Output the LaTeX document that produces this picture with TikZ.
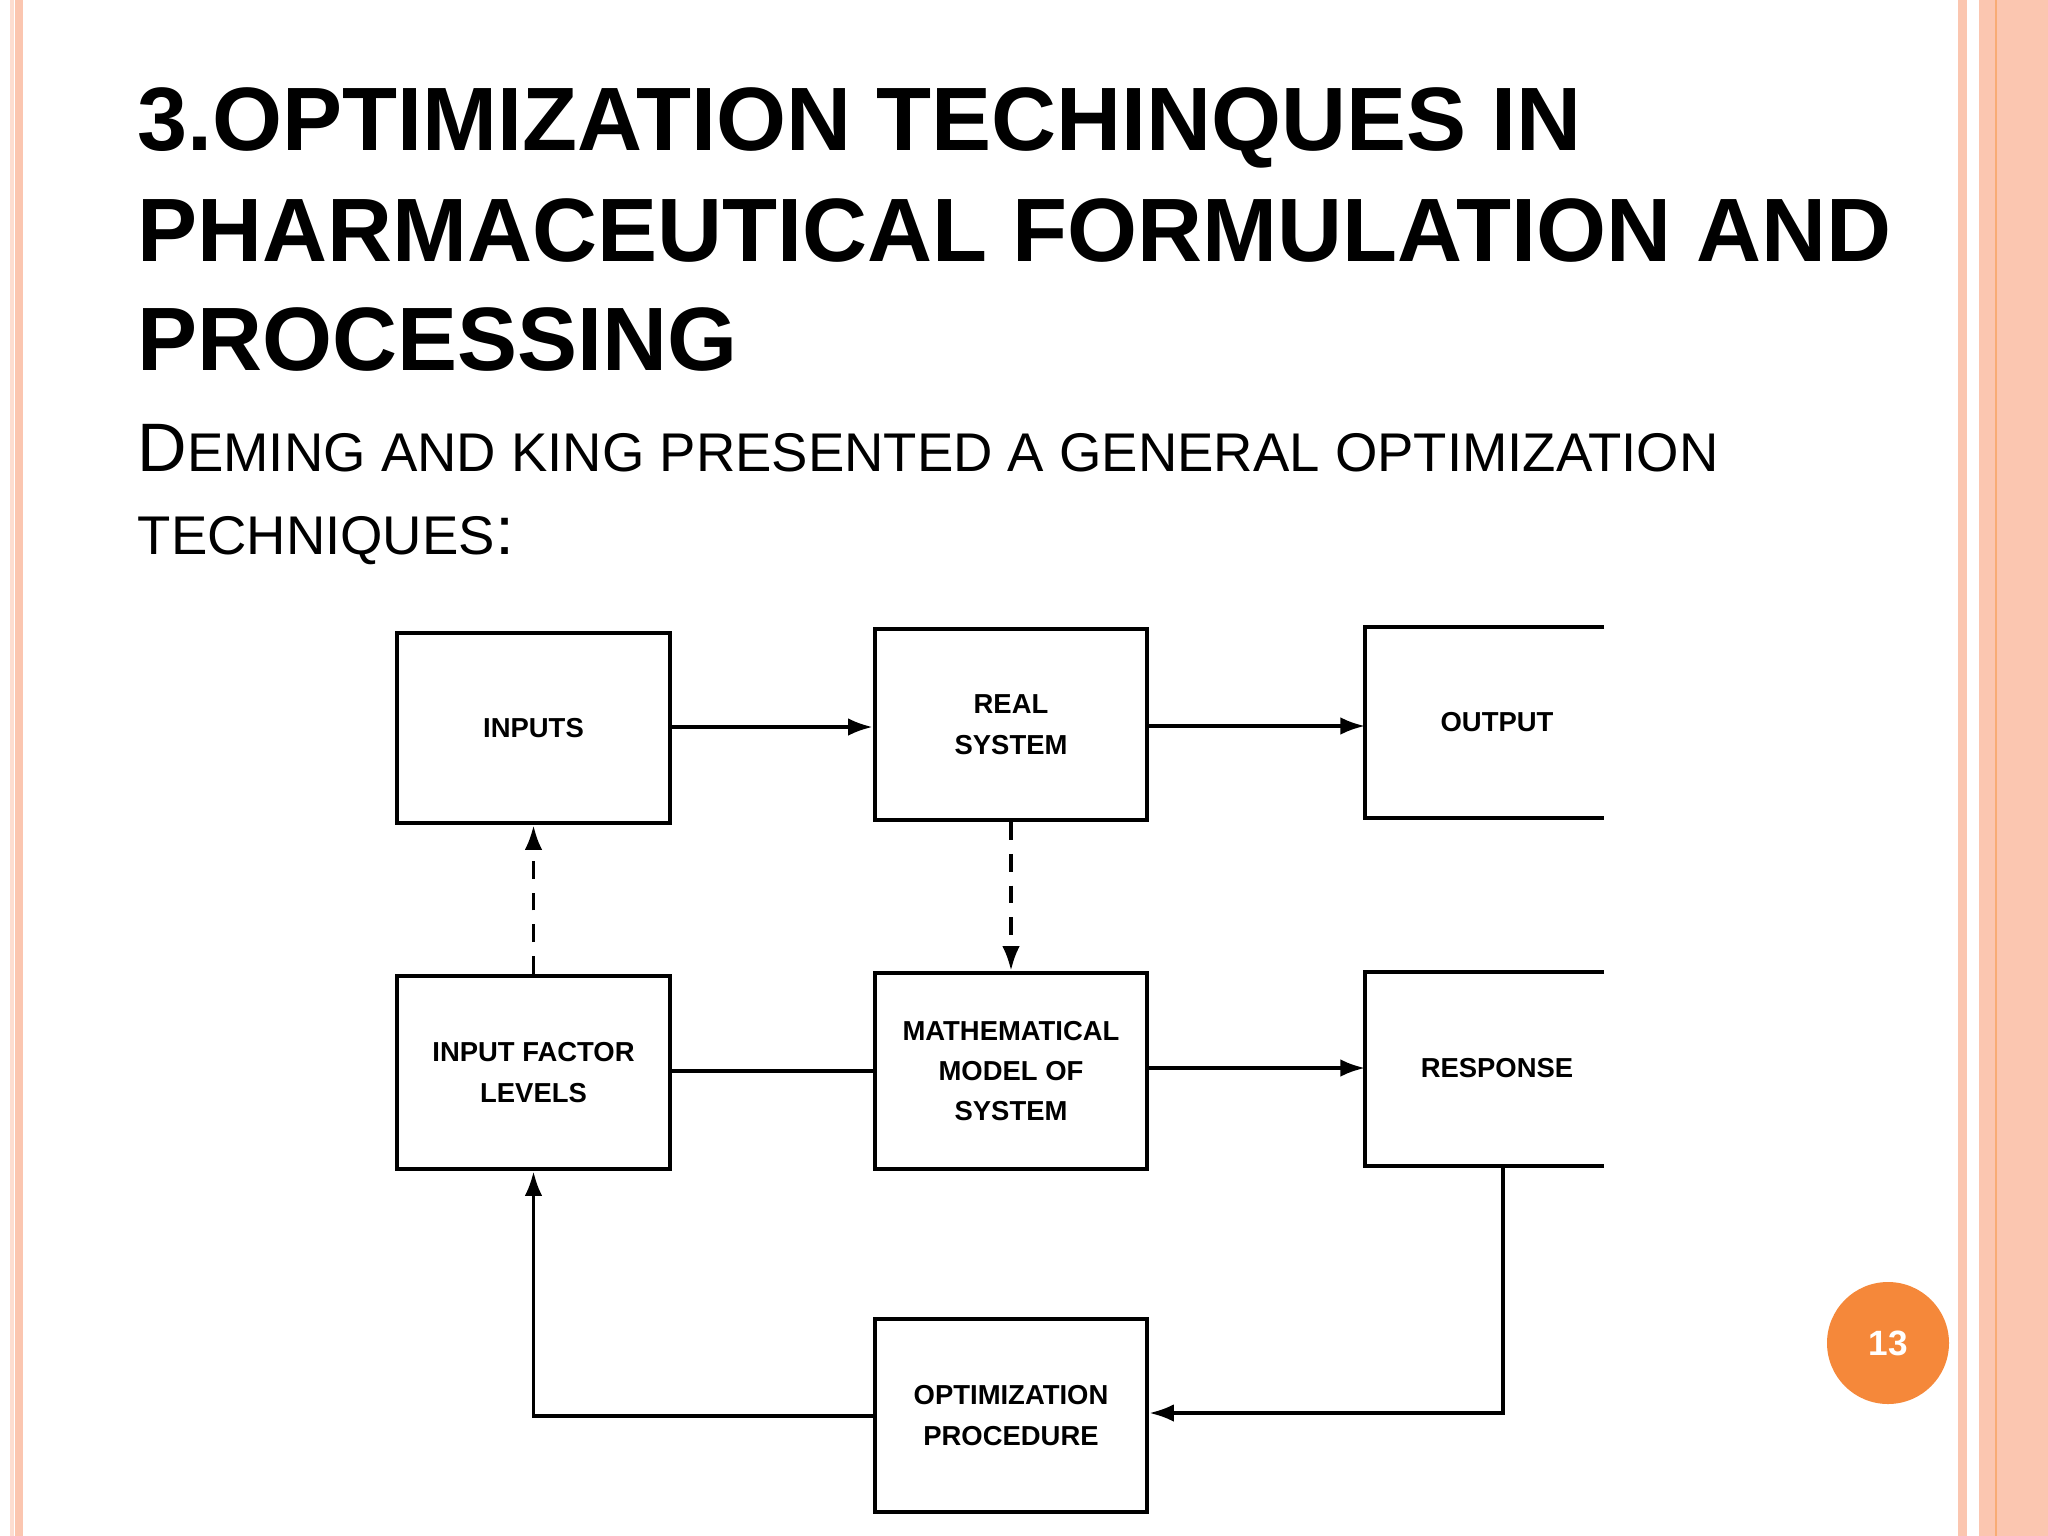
\documentclass[tikz,border=0pt]{standalone}
\usepackage{fontspec}
\setmainfont{Liberation Sans}
\usetikzlibrary{arrows.meta}
\definecolor{peach}{HTML}{FBC6B0}
\definecolor{orng}{HTML}{F5883A}
\begin{document}
\begin{tikzpicture}[x=0.01cm,y=-0.01cm,
  bx/.style={draw,line width=1.3pt},
  lbl/.style={font=\fontsize{7.8}{11.5}\selectfont\bfseries,align=center},
  ttl/.style={anchor=base west,inner sep=0pt,font=\fontsize{25.6}{30}\selectfont\bfseries},
  sub/.style={anchor=base west,inner sep=0pt,font=\fontsize{15.5}{18}\selectfont},
  ln/.style={line width=1pt},
  arr/.style={ln,-{Latex[length=7pt,width=5pt]}}]
\useasboundingbox (0,0) rectangle (2048,1536);
\fill[white] (0,0) rectangle (2048,1536);
\fill[peach!60] (10,0) rectangle (14,1536);
\fill[peach] (15,0) rectangle (23,1536);
\fill[peach] (1958,0) rectangle (1967,1536);
\fill[peach] (1979,0) rectangle (2048,1536);
\draw[orng!70,line width=0.6pt] (1996,0) -- (1996,1536);
% title
\node[ttl] (t1) at (137,150) {3.OPTIMIZATION TECHINQUES IN};
\node[ttl] (t2) at (137,261) {PHARMACEUTICAL FORMULATION AND};
\node[ttl] (t3) at (137,370) {PROCESSING};
\node[sub] (s1) at (137,471) {{\fontsize{19.5}{22}\selectfont D}EMING AND KING PRESENTED A GENERAL OPTIMIZATION};
\node[sub] (s2) at (137,554) {TECHNIQUES{\fontsize{19.5}{22}\selectfont :}};
% boxes
\node[bx,minimum width=273*0.01cm,minimum height=190*0.01cm,lbl] (in) at (533.5,728) {INPUTS};
\node[bx,minimum width=272*0.01cm,minimum height=191*0.01cm,lbl] (rs) at (1011,724.5) {REAL\\SYSTEM};
\node[bx,minimum width=273*0.01cm,minimum height=193*0.01cm,lbl] (if) at (533.5,1072.5) {INPUT FACTOR\\LEVELS};
\node[bx,minimum width=272*0.01cm,minimum height=196*0.01cm,lbl] (mm) at (1011,1071) {MATHEMATICAL\\MODEL OF\\SYSTEM};
\node[bx,minimum width=272*0.01cm,minimum height=193*0.01cm,lbl] (op) at (1011,1415.5) {OPTIMIZATION\\PROCEDURE};
\node[lbl] (ou) at (1497,722) {OUTPUT};
\node[lbl] (re) at (1497,1068) {RESPONSE};
\draw[line width=1.3pt] (1604,627) -- (1365,627) -- (1365,818) -- (1604,818);
\draw[line width=1.3pt] (1604,972) -- (1365,972) -- (1365,1166) -- (1604,1166);
\coordinate (oul) at (1365,726);
\coordinate (rel) at (1365,1068);
\coordinate (reb) at (1503,1166);
% connectors
\draw[arr] (in.east|-0,727) -- (rs.west|-0,727);
\draw[arr] (rs.east|-0,726) -- (oul);
\draw[arr,dash pattern=on 5pt off 4pt] (rs.south) -- (mm.north);
\draw[arr,dash pattern=on 5pt off 4pt] (if.north) -- (in.south);
\draw[ln] (if.east|-0,1071) -- (mm.west|-0,1071);
\draw[arr] (mm.east|-0,1068) -- (rel);
\draw[arr] (reb) |- (op.east|-0,1413);
\draw[arr] (op.west|-0,1416) -| (if.south);
% page number
\node[circle,fill=orng,minimum size=122*0.01cm,text=white,font=\fontsize{10}{12}\selectfont\bfseries] (pg) at (1888,1343) {13};
\end{tikzpicture}
\end{document}
